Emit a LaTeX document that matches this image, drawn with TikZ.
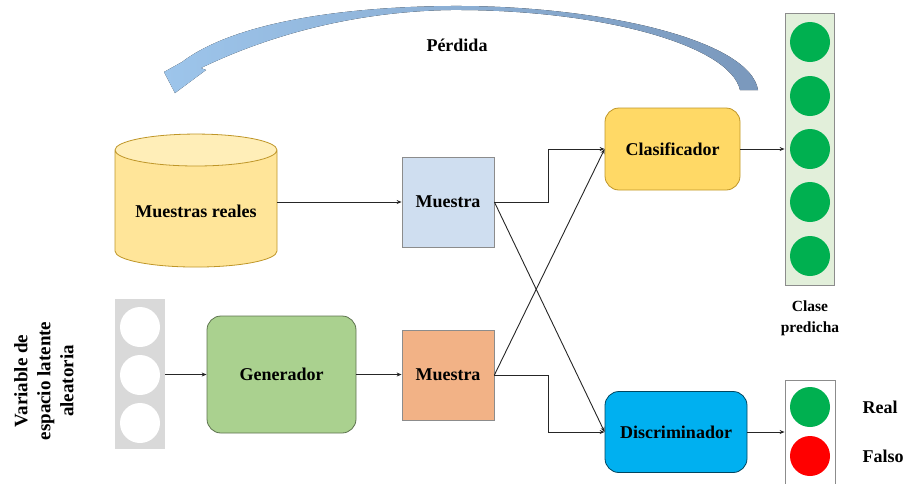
\documentclass[tikz,border=0pt]{standalone}
\usepackage{fontspec}
\setmainfont{Liberation Serif}
\usetikzlibrary{positioning,arrows.meta,shapes.geometric}
\definecolor{realc}{RGB}{255,229,153}
\definecolor{realtop}{RGB}{255,238,184}
\definecolor{realedge}{RGB}{191,150,40}
\definecolor{samplec}{RGB}{207,222,240}
\definecolor{fakec}{RGB}{242,178,134}
\definecolor{genc}{RGB}{170,209,143}
\definecolor{clasc}{RGB}{255,217,102}
\definecolor{discc}{RGB}{0,176,240}
\definecolor{noisec}{RGB}{217,217,217}
\definecolor{predc}{RGB}{226,239,218}
\definecolor{okc}{RGB}{0,176,80}
\definecolor{badc}{RGB}{255,0,0}
\definecolor{lossl}{RGB}{157,197,235}
\definecolor{lossr}{RGB}{122,152,188}
\tikzset{
  lbl/.style={font=\fontsize{18}{21}\selectfont\bfseries, align=center},
  box/.style={lbl, draw=black!45, line width=0.8pt},
  sample/.style={box, minimum width=92pt, minimum height=90pt},
  block/.style={box, rounded corners=14pt},
  dot/.style={circle, minimum size=40pt, inner sep=0pt},
  flow/.style={-{Stealth[length=5pt,width=4pt]}, line width=0.9pt, black!85}
}
\begin{document}
\begin{tikzpicture}[x=1pt,y=-1pt]
  \useasboundingbox (0,0) rectangle (903,483);

  % loss arrow
  \fill[left color=lossl, right color=lossr] (758,90) .. controls (750,40) and (600,5) .. (450,6)
    .. controls (335,7) and (232,24) .. (182,62) -- (164,72) -- (175,93) -- (206,70) -- (201,68)
    .. controls (255,42) and (340,12) .. (450,10) .. controls (600,9) and (730,45) .. (740,90) -- cycle;
  \node[lbl] (loss) at (457,45) {Pérdida};

  \node[box, cylinder, shape border rotate=90, aspect=0.25, minimum width=162pt, minimum height=133pt,
    cylinder uses custom fill, cylinder body fill=realc, cylinder end fill=realtop, draw=realedge] (real) at (196,211) {Muestras reales};
  \node[sample, fill=samplec] (mreal) at (448,202) {Muestra};
  \node[sample, fill=fakec] (mfake) at (448,375) {Muestra};

  \node[box, fill=noisec, draw=none, minimum width=50pt, minimum height=150pt] (noise) at (140,374) {};
  \foreach \i/\y in {1/327,2/375,3/423}
    \node[dot, fill=white] (z\i) at (140,\y) {};
  \node[lbl, rotate=90, font=\fontsize{19}{23}\selectfont\bfseries] (zlbl) at (44,381) {Variable de\\espacio latente\\aleatoria};

  \node[block, fill=genc, draw=black!45!genc, minimum width=149pt, minimum height=117pt] (gen) at (281.5,374.5) {Generador};
  \node[block, fill=clasc, draw=realedge, minimum width=135pt, minimum height=82pt] (clas) at (672.5,149) {Clasificador};
  \node[block, fill=discc, draw=black!60!discc, minimum width=142pt, minimum height=81pt] (disc) at (676,432) {Discriminador};

  \node[box, fill=predc, minimum width=49pt, minimum height=272pt] (pred) at (809.5,149) {};
  \foreach \i/\y in {1/42,2/96,3/149,4/202,5/256}
    \node[dot, fill=okc] (p\i) at (810,\y) {};
  \node[lbl, font=\fontsize{15.5}{21}\selectfont\bfseries] (predlbl) at (810,318) {Clase\\predicha};

  \node[box, fill=white, minimum width=50pt, minimum height=120pt] (out) at (810,440) {};
  \node[dot, fill=okc] (yes) at (810,407) {};
  \node[dot, fill=badc] (no) at (810,456) {};
  \node[lbl, anchor=west] (yeslbl) at (859,407) {Real};
  \node[lbl, anchor=west] (nolbl) at (859,456) {Falso};

  \draw[flow] (real.east |- mreal.west) -- (mreal.west);
  \draw[flow] (noise.east |- gen.west) -- (gen.west);
  \draw[flow] (gen.east) -- (gen.east -| mfake.west);
  \draw[flow] (mreal.east) -- ++(54,0) |- (clas.west);
  \draw[flow] (mreal.east) -- (disc.west);
  \draw[flow] (mfake.east) -- (clas.west);
  \draw[flow] (mfake.east) -- ++(54,0) |- (disc.west);
  \draw[flow] (clas.east) -- (pred.west);
  \draw[flow] (disc.east) -- (disc.east -| out.west);
\end{tikzpicture}
\end{document}
